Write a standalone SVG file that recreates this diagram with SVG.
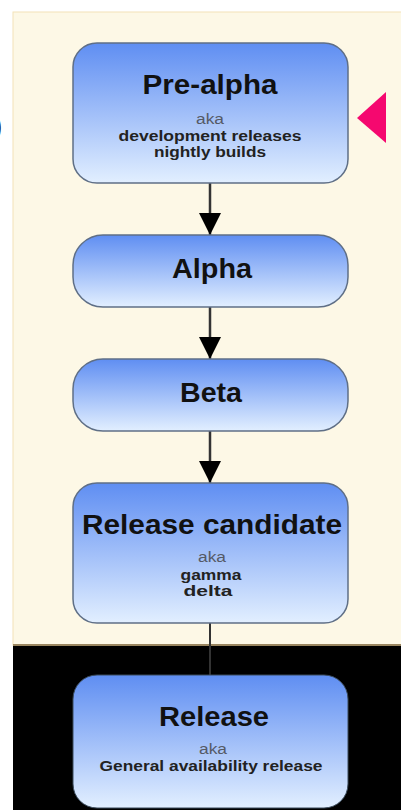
<svg xmlns="http://www.w3.org/2000/svg" width="401" height="810" viewBox="0 0 401 810">
<style>
.box{fill:url(#g);stroke:#5f6f86;stroke-width:1.5}
.t{font-family:"Liberation Sans",Arial,sans-serif;font-weight:bold;fill:#111;text-anchor:middle}
.big{font-size:27px}
.sm{font-size:14px;fill:#222}
.aka{font-family:"Liberation Sans",Arial,sans-serif;font-size:14px;fill:#555a66;text-anchor:middle}
.c{stroke:#333;stroke-width:2.5;fill:none}
</style>
<defs>
<linearGradient id="g" x1="0" y1="0" x2="0" y2="1">
<stop offset="0" stop-color="#5f8ef2"/>
<stop offset="1" stop-color="#e2efff"/>
</linearGradient>
<marker id="ah" markerUnits="userSpaceOnUse" markerWidth="22" markerHeight="26" refX="22" refY="11" orient="auto">
<path d="M0,0 L22,11 L0,22 Z" fill="#000"/>
</marker>
</defs>
<rect width="401" height="810" fill="#fff"/>
<rect x="13" y="12" width="400" height="633" fill="#fdf8e6" stroke="#f3e2b8" stroke-width="1"/>
<rect x="13" y="644" width="400" height="2" fill="#9a8660"/>
<rect x="13" y="646" width="400" height="170" fill="#000"/>
<text x="-7" y="135" class="t big" style="text-anchor:start">)</text>
<polygon points="357,118 386,92 386,143" fill="#f5086f"/>
<g id="connectors">
<line class="c" x1="210" y1="183" x2="210" y2="235" marker-end="url(#ah)"/>
<line class="c" x1="210" y1="307" x2="210" y2="359" marker-end="url(#ah)"/>
<line class="c" x1="210" y1="431" x2="210" y2="483" marker-end="url(#ah)"/>
<line x1="210" y1="623" x2="210" y2="676" stroke="#333" stroke-width="2"/>
</g>
<g id="pre-alpha">
<rect class="box" x="73" y="43" width="275" height="140" rx="24"/>
<text class="t big" x="210" y="94" textLength="135" lengthAdjust="spacingAndGlyphs">Pre-alpha</text>
<text class="aka" x="210" y="124" textLength="28" lengthAdjust="spacingAndGlyphs">aka</text>
<text class="t sm" x="210" y="141" textLength="183" lengthAdjust="spacingAndGlyphs">development releases</text>
<text class="t sm" x="210" y="157" textLength="112" lengthAdjust="spacingAndGlyphs">nightly builds</text>
</g>
<g id="alpha">
<rect class="box" x="73" y="235" width="275" height="72" rx="30"/>
<text class="t big" x="212" y="278" textLength="80" lengthAdjust="spacingAndGlyphs">Alpha</text>
</g>
<g id="beta">
<rect class="box" x="73" y="359" width="275" height="72" rx="30"/>
<text class="t big" x="211" y="402" textLength="62" lengthAdjust="spacingAndGlyphs">Beta</text>
</g>
<g id="release-candidate">
<rect class="box" x="73" y="483" width="275" height="140" rx="24"/>
<text class="t big" x="212" y="534" textLength="260" lengthAdjust="spacingAndGlyphs">Release candidate</text>
<text class="aka" x="212" y="562" textLength="28" lengthAdjust="spacingAndGlyphs">aka</text>
<text class="t sm" x="211" y="580" textLength="61" lengthAdjust="spacingAndGlyphs">gamma</text>
<text class="t sm" x="208" y="596" textLength="49" lengthAdjust="spacingAndGlyphs">delta</text>
</g>
<g id="release">
<rect x="73" y="675" width="275" height="133" rx="24" fill="url(#g)" stroke="#3a4a5a" stroke-width="1"/>
<text class="t big" x="214" y="726" textLength="110" lengthAdjust="spacingAndGlyphs">Release</text>
<text class="aka" x="213" y="754" textLength="28" lengthAdjust="spacingAndGlyphs">aka</text>
<text class="t sm" x="211" y="771" textLength="223" lengthAdjust="spacingAndGlyphs">General availability release</text>
</g>
</svg>
